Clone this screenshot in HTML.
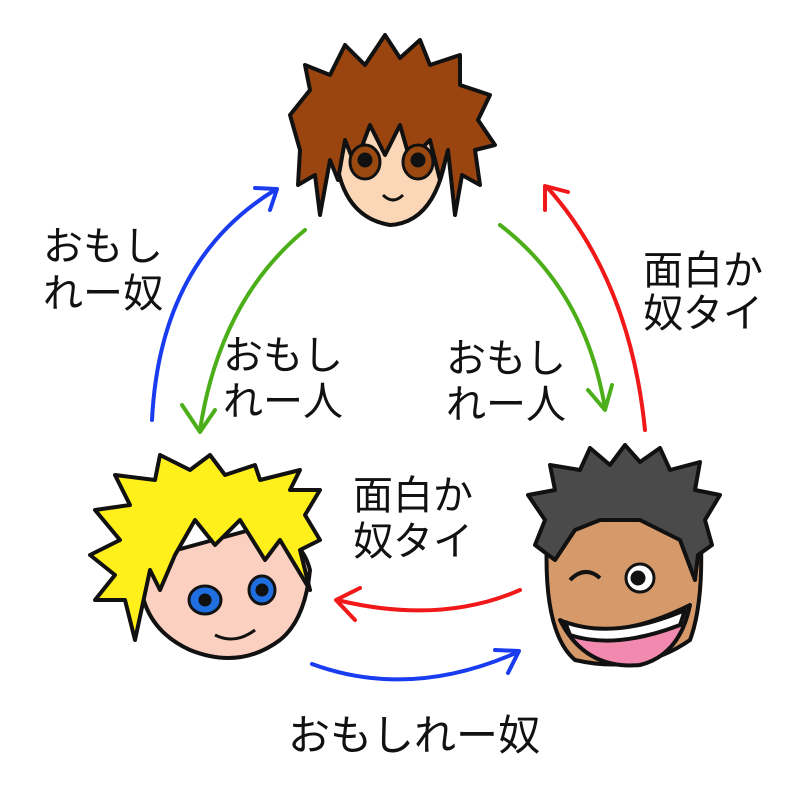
<!DOCTYPE html>
<html><head><meta charset="utf-8"><style>
body{margin:0;background:#fff;}
svg{display:block}
text{font-family:"Liberation Sans","Noto Sans CJK JP",sans-serif;font-size:40px;fill:#111}
</style></head><body>
<svg width="800" height="800" viewBox="0 0 800 800" xmlns="http://www.w3.org/2000/svg">
<g fill="none" stroke-width="4" stroke-linecap="round" stroke-linejoin="round">
<path d="M152 420 Q160 260 275 190" stroke="#1a3cf0"/>
<path d="M255 188 L277 189 L270 210" stroke="#1a3cf0"/>
<path d="M305 230 Q220 300 200 430" stroke="#4caf1a"/>
<path d="M182 405 L200 432 L215 410" stroke="#4caf1a"/>
<path d="M500 225 Q585 290 605 408" stroke="#4caf1a"/>
<path d="M588 390 L605 410 L612 385" stroke="#4caf1a"/>
<path d="M645 430 Q630 280 547 187" stroke="#f01818"/>
<path d="M545 210 L545 186 L568 192" stroke="#f01818"/>
<path d="M520 590 Q440 625 337 600" stroke="#f01818"/>
<path d="M360 588 L336 600 L355 620" stroke="#f01818"/>
<path d="M312 664 Q410 700 518 652" stroke="#1a3cf0"/>
<path d="M495 650 L519 651 L508 673" stroke="#1a3cf0"/>
</g>

<g stroke="#111" stroke-width="4" stroke-linejoin="round">
<path d="M335 120 Q330 215 390 225 Q445 222 450 120 Z" fill="#fbd7b8"/>
<path d="M300 150 L290 115 L310 90 L305 65 L330 75 L345 45 L365 65 L385 35 L400 58 L420 40 L430 65 L460 55 L460 85 L490 95 L478 120 L495 145 L475 150 L480 185 L462 175 L455 215 L448 150 L440 180 L430 140 L410 160 L400 125 L385 155 L370 125 L355 165 L345 140 L338 180 L330 160 L320 215 L315 175 L298 185 Z" fill="#9a4510"/>
</g>
<g stroke="#111" stroke-width="3">
<ellipse cx="365" cy="162" rx="15" ry="17" fill="#9a4a10"/>
<ellipse cx="418" cy="162" rx="15" ry="17" fill="#9a4a10"/>
<circle cx="365" cy="160" r="6" fill="#111"/><circle cx="418" cy="160" r="6" fill="#111"/>
</g>
<path d="M383 195 Q393 205 403 195" stroke="#111" stroke-width="3" fill="none"/>

<g stroke="#111" stroke-width="4" stroke-linejoin="round">
<path d="M140 560 Q135 625 190 650 Q240 670 280 640 Q305 620 310 570 Q300 530 250 530 Z" fill="#fbd0c0"/>
<path d="M135 640 L125 600 L95 600 L115 575 L90 555 L120 540 L95 510 L130 505 L115 475 L155 480 L160 455 L190 470 L210 455 L225 475 L255 465 L260 480 L300 470 L290 490 L320 490 L305 515 L320 540 L300 550 L310 590 L280 540 L265 560 L240 520 L215 545 L195 520 L175 555 L160 590 L150 570 Z" fill="#ffef1a"/>
</g>
<g stroke="#111" stroke-width="3">
<ellipse cx="205" cy="600" rx="16" ry="14" fill="#1f6fe0"/>
<ellipse cx="262" cy="590" rx="13" ry="14" fill="#1f6fe0"/>
<circle cx="205" cy="600" r="5" fill="#111"/><circle cx="262" cy="590" r="5" fill="#111"/>
</g>
<path d="M215 635 Q235 645 255 630" stroke="#111" stroke-width="3" fill="none"/>

<g stroke="#111" stroke-width="4" stroke-linejoin="round">
<path d="M548 520 Q540 630 575 660 Q640 675 690 640 Q705 600 700 520 Z" fill="#d69a6a"/>
<path d="M555 560 L535 545 L545 520 L528 495 L555 490 L550 465 L580 470 L590 448 L610 465 L625 445 L640 462 L660 448 L670 470 L700 462 L695 490 L720 495 L705 520 L712 545 L698 555 L695 580 L680 540 L660 530 L640 520 L600 520 L575 530 Z" fill="#4a4a4a"/>
<path d="M560 620 Q610 645 690 605 Q680 655 640 665 Q585 670 560 620 Z" fill="#f28ab0"/>
<path d="M565 622 Q615 640 685 610 L680 625 Q615 650 570 635 Z" fill="#fff"/>
</g>
<g stroke="#111" stroke-width="3">
<circle cx="640" cy="578" r="14" fill="#fff"/><circle cx="638" cy="578" r="6" fill="#111"/>
</g>
<path d="M570 580 Q585 565 600 578" stroke="#111" stroke-width="4" fill="none"/>

<text x="43" y="260">おもし</text>
<text x="43" y="307">れー奴</text>
<text x="223" y="369">おもし</text>
<text x="223" y="415">れー人</text>
<text x="446" y="372">おもし</text>
<text x="446" y="418">れー人</text>
<text x="643" y="284">面白か</text>
<text x="643" y="327">奴タイ</text>
<text x="353" y="509">面白か</text>
<text x="353" y="555">奴タイ</text>
<text x="288" y="750" style="font-size:42px">おもしれー奴</text>
</svg>
</body></html>
